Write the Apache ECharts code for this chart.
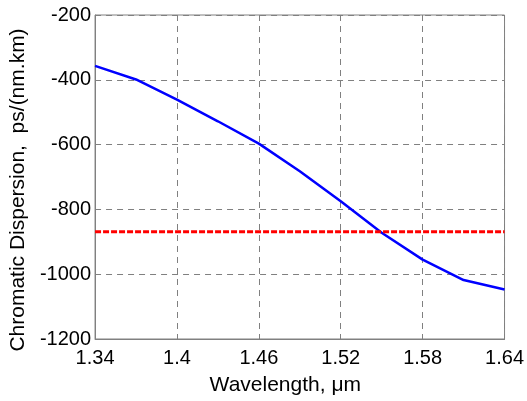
<!DOCTYPE html>
<html>
<head>
<meta charset="utf-8">
<script src="https://cdn.jsdelivr.net/npm/echarts@6/dist/echarts.min.js"></script>
<style>html,body{margin:0;padding:0;background:#fff;}#c{width:527px;height:401px;}</style>
</head>
<body>
<div id="c"></div>
<script>
const wavelength = [1.34, 1.37, 1.40, 1.43, 1.46, 1.49, 1.52, 1.55, 1.58, 1.61, 1.64];
const dispersion = [-357, -399, -461, -528, -597, -682, -775, -872, -955, -1018, -1047];
const referenceLevel = -869;
const xTicks = ['1.34', '1.4', '1.46', '1.52', '1.58', '1.64'];
const yTicks = ['-1200', '-1000', '-800', '-600', '-400', '-200'];

const chart = echarts.init(document.getElementById('c'), null, {renderer: 'canvas'});
const font = 'Liberation Sans, Arial, sans-serif';
const gridLine = {show: true, lineStyle: {color: '#808080', width: 1, type: [6, 5]}};
chart.setOption({
  animation: false,
  backgroundColor: '#ffffff',
  grid: {left: 95, right: 20, top: 15, bottom: 56, show: true, borderColor: '#808080', borderWidth: 1, backgroundColor: 'transparent'},
  xAxis: {
    type: 'value', min: 1.34, max: 1.64, interval: 0.06,
    name: 'Wavelength, \u03bcm', nameLocation: 'middle', nameGap: 36,
    nameTextStyle: {fontFamily: font, fontSize: 21, color: '#000', padding: [0, 29, 0, 0]},
    axisLine: {show: true, lineStyle: {color: '#808080', width: 1}},
    axisTick: {show: false},
    splitLine: gridLine,
    axisLabel: {fontFamily: font, fontSize: 20, color: '#000', margin: 9,
      formatter: v => { const s = xTicks.find(t => Math.abs(parseFloat(t) - v) < 1e-6); return s || ''; }}
  },
  yAxis: {
    type: 'value', min: -1200, max: -200, interval: 200,
    name: 'Chromatic Dispersion,  ps/(nm.km)', nameLocation: 'middle', nameGap: 59,
    nameTextStyle: {fontFamily: font, fontSize: 21, color: '#000', padding: [0, 26, 0, 0]},
    axisLine: {show: true, lineStyle: {color: '#808080', width: 1}},
    axisTick: {show: false},
    splitLine: gridLine,
    axisLabel: {fontFamily: font, fontSize: 20, color: '#000', margin: 4,
      formatter: v => { const s = yTicks.find(t => parseFloat(t) === v); return s || ''; }}
  },
  series: [
    {type: 'line', data: wavelength.map((x, i) => [x, dispersion[i]]), showSymbol: false,
      lineStyle: {color: '#0000ff', width: 2.5}, z: 3},
    {type: 'line', data: [[wavelength[0], referenceLevel], [wavelength[wavelength.length - 1], referenceLevel]], showSymbol: false,
      lineStyle: {color: '#ff0000', width: 3, type: [6, 2]}, z: 4}
  ]
});
</script>
</body>
</html>
